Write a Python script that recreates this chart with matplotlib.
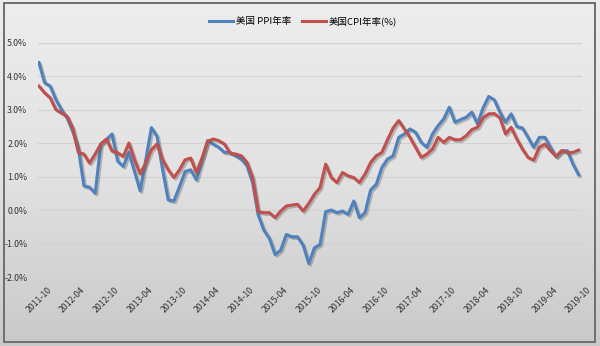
import numpy as np
import matplotlib
matplotlib.use("Agg")
import matplotlib.pyplot as plt
import matplotlib.patheffects as pe
from matplotlib.patches import Rectangle

plt.rcParams['font.family'] = ['Noto Sans CJK SC', 'DejaVu Sans']

# ---- data (monthly, 2011-10 .. 2019-10) ----
ppi = [4.4, 3.8, 3.7, 3.3, 3.0, 2.75, 2.35, 1.85, 0.72, 0.68, 0.5, 1.97, 2.1, 2.27, 1.46, 1.3,
       1.72, 1.15, 0.57, 1.5, 2.46, 2.2, 1.2, 0.3, 0.27, 0.7, 1.15, 1.2, 0.9, 1.5,
       2.07, 1.97, 1.87, 1.72, 1.72, 1.62, 1.52, 1.32, 0.82,
       -0.15, -0.6, -0.85, -1.33, -1.2, -0.73, -0.8, -0.8, -1.05, -1.6, -1.13, -1.03,
       -0.05, 0.0, -0.08, -0.03, -0.13, 0.27, -0.23, -0.08, 0.6, 0.77,
       1.27, 1.52, 1.62, 2.17, 2.27, 2.42, 2.32, 2.02, 1.87, 2.27, 2.52, 2.72, 3.07, 2.62, 2.7, 2.77, 2.92, 2.57,
       3.05, 3.39, 3.29, 2.92, 2.62, 2.87, 2.49, 2.45, 2.17, 1.87, 2.17, 2.17, 1.87, 1.59, 1.77, 1.77, 1.37, 1.05]
cpi = [3.7, 3.5, 3.35, 3.0, 2.9, 2.8, 2.45, 1.72, 1.67, 1.4, 1.67, 1.97, 2.12, 1.76, 1.71, 1.6,
       2.0, 1.5, 1.08, 1.4, 1.8, 1.97, 1.5, 1.2, 0.97, 1.2, 1.5, 1.55, 1.12, 1.55,
       2.05, 2.12, 2.07, 1.97, 1.7, 1.67, 1.62, 1.42, 0.97,
       -0.05, -0.08, -0.08, -0.23, -0.03, 0.12, 0.15, 0.17, -0.03, 0.2, 0.47, 0.67,
       1.37, 0.97, 0.82, 1.12, 1.02, 0.97, 0.82, 1.07, 1.42, 1.62,
       1.72, 2.1, 2.45, 2.67, 2.42, 2.17, 1.87, 1.57, 1.67, 1.82, 2.17, 2.02, 2.17, 2.1, 2.1, 2.22, 2.4, 2.47,
       2.75, 2.87, 2.88, 2.75, 2.27, 2.47, 2.12, 1.82, 1.57, 1.49, 1.87, 1.97, 1.77, 1.6, 1.77, 1.72, 1.72, 1.79]
months = []
y, m = 2011, 10
for _ in range(len(ppi)):
    months.append(f"{y}-{m:02d}")
    m += 1
    if m > 12:
        m = 1
        y += 1
tick_step = 6
yticks = [-2, -1, 0, 1, 2, 3, 4, 5]

fig = plt.figure(figsize=(6, 3.46), dpi=100)

# background gradient
bg = fig.add_axes([0, 0, 1, 1], zorder=-10)
grad = np.linspace(0, 1, 256).reshape(-1, 1)
from matplotlib.colors import LinearSegmentedColormap
cmap = LinearSegmentedColormap.from_list('g', ['#ededed', '#e2e2e2', '#c9c9c9'])
bg.imshow(grad, aspect='auto', cmap=cmap, extent=[0, 1, 0, 1], origin='upper')
bg.set_axis_off()
fig.patches.append(Rectangle((0.006, 0.012), 0.986, 0.978, transform=fig.transFigure,
                             fill=False, edgecolor='#6e6e6e', lw=1.4, zorder=5))

ax = fig.add_axes([0.064, 0.1994, 0.906, 0.6776])
ax.set_facecolor('none')
x = np.arange(len(ppi))
shadow = [pe.SimpleLineShadow(offset=(1.2, -1.2), shadow_color='#555555', alpha=0.35), pe.Normal()]
l1, = ax.plot(x, ppi, color='#4F81BD', lw=2.2, label='美国 PPI年率', path_effects=shadow, zorder=3)
l2, = ax.plot(x, cpi, color='#C0504D', lw=2.2, label='美国CPI年率(%)', path_effects=shadow, zorder=4)

ax.set_xlim(-0.1, 96.6)
ax.set_ylim(-2, 5)
ax.set_yticks(yticks)
ax.set_yticklabels([f"{v:.1f}%" for v in yticks], fontsize=6.3, color='#333333')
ax.yaxis.grid(True, color='#d2d2d2', lw=0.8)
ax.set_axisbelow(True)
ax.tick_params(axis='both', length=0, pad=3)
ax.tick_params(axis='y', pad=8)
tick_pos = list(range(0, len(ppi), tick_step))
ax.set_xticks(tick_pos)
ax.set_xticklabels([months[i] for i in tick_pos], rotation=45, ha='right', va='top',
                   rotation_mode='anchor', fontsize=6.3, color='#333333')
for lbl in ax.get_xticklabels():
    lbl.set_transform(lbl.get_transform() + matplotlib.transforms.ScaledTranslation(8/100, -4/100, fig.dpi_scale_trans))
for s in ax.spines.values():
    s.set_visible(False)

fig.legend(handles=[l1, l2], loc='center', bbox_to_anchor=(0.505, 0.938), ncol=2, frameon=False,
           fontsize=6.8, handlelength=2.5, columnspacing=1.2, handletextpad=0.3)
for h in fig.legends[0].legend_handles:
    h.set_path_effects([])

fig.savefig('out.png', dpi=100)
